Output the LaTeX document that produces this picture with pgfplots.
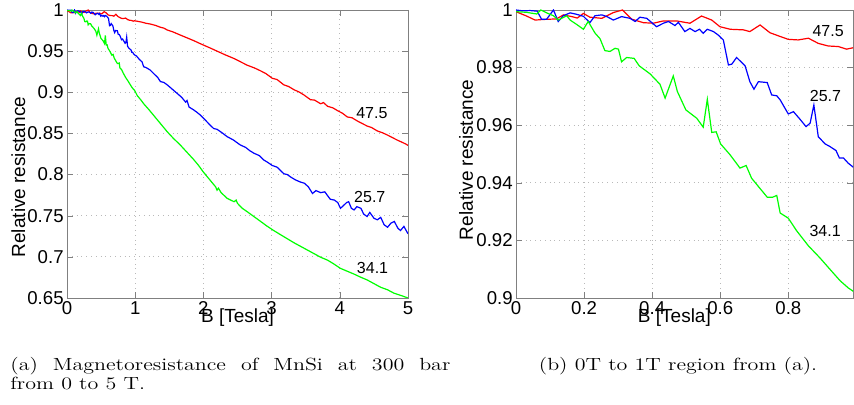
\documentclass[border=0pt]{standalone}
\usepackage{pgfplots}
\pgfplotsset{compat=1.18}
\usepackage{pgfplotstable}
\usepackage{graphicx}
\usepackage{fontspec}
\newfontfamily\arialfont{Liberation Sans}

% relative resistance vs field, three pressures/temperatures
\pgfplotstableread{
x y
0 0.9994
0.031 0.9979
0.056 0.9965
0.080 0.9967
0.119 0.9969
0.139 0.9983
0.164 0.9977
0.180 0.9972
0.198 0.9988
0.217 0.9975
0.252 0.9971
0.286 0.9991
0.313 1.0000
0.340 0.9968
0.374 0.9956
0.403 0.9954
0.433 0.9962
0.472 0.9962
0.511 0.9954
0.545 0.9979
0.575 0.9965
0.599 0.9942
0.629 0.9933
0.668 0.9931
0.687 0.9925
0.717 0.9948
0.746 0.9921
0.776 0.9908
0.800 0.9898
0.829 0.9896
0.859 0.9902
0.888 0.9884
0.917 0.9875
0.947 0.9873
0.971 0.9864
0.991 0.9869
1.05 0.9860
1.10 0.9852
1.16 0.9838
1.22 0.9830
1.30 0.9812
1.37 0.9790
1.42 0.9780
1.47 0.9757
1.55 0.9735
1.66 0.9696
1.75 0.9665
1.86 0.9627
1.93 0.9600
2.00 0.9574
2.10 0.9538
2.20 0.9500
2.32 0.9455
2.45 0.9410
2.55 0.9368
2.64 0.9330
2.75 0.9295
2.84 0.9260
2.92 0.9225
3.01 0.9170
3.08 0.9155
3.18 0.9090
3.25 0.9070
3.33 0.9030
3.40 0.9005
3.47 0.8970
3.57 0.8910
3.63 0.8905
3.72 0.8860
3.76 0.8875
3.82 0.8830
3.90 0.8810
3.96 0.8780
4.04 0.8745
4.11 0.8700
4.18 0.8690
4.26 0.8650
4.33 0.8620
4.40 0.8590
4.47 0.8570
4.55 0.8530
4.62 0.8510
4.70 0.8480
4.77 0.8450
4.84 0.8420
4.92 0.8390
4.97 0.8370
5.00 0.8355
}\redtable

\pgfplotstableread{
x y
0 1.0000
0.020 0.9997
0.041 0.9998
0.062 0.9996
0.075 0.9968
0.090 0.9968
0.110 1.0000
0.124 0.9960
0.139 0.9980
0.159 0.9990
0.178 0.9985
0.198 0.9978
0.217 0.9956
0.232 0.9980
0.252 0.9983
0.267 0.9977
0.286 0.9965
0.310 0.9977
0.335 0.9971
0.350 0.9960
0.364 0.9975
0.384 0.9971
0.399 0.9956
0.413 0.9942
0.433 0.9954
0.448 0.9960
0.467 0.9946
0.477 0.9957
0.496 0.9925
0.511 0.9936
0.526 0.9925
0.539 0.9933
0.550 0.9919
0.562 0.9933
0.580 0.9925
0.594 0.9913
0.609 0.9896
0.624 0.9809
0.634 0.9812
0.648 0.9835
0.673 0.9806
0.687 0.9751
0.699 0.9725
0.712 0.9751
0.738 0.9748
0.751 0.9705
0.766 0.9702
0.776 0.9688
0.790 0.9659
0.800 0.9639
0.815 0.9647
0.834 0.9621
0.852 0.9595
0.864 0.9607
0.875 0.9670
0.888 0.9560
0.908 0.9535
0.922 0.9526
0.940 0.9512
0.950 0.9486
0.962 0.9486
0.976 0.9468
0.991 0.9454
1.02 0.9440
1.06 0.9400
1.10 0.9370
1.125 0.9310
1.16 0.9300
1.22 0.9270
1.28 0.9220
1.33 0.9180
1.37 0.9130
1.42 0.9120
1.47 0.9090
1.54 0.9040
1.61 0.8990
1.68 0.8940
1.74 0.8880
1.76 0.8900
1.79 0.8820
1.85 0.8790
1.90 0.8760
1.96 0.8720
2.03 0.8660
2.10 0.8600
2.15 0.8560
2.20 0.8550
2.27 0.8510
2.35 0.8460
2.44 0.8420
2.54 0.8360
2.62 0.8330
2.68 0.8290
2.74 0.8260
2.82 0.8230
2.88 0.8180
2.94 0.8150
3.01 0.8110
3.08 0.8090
3.13 0.8050
3.18 0.8010
3.23 0.8000
3.28 0.7970
3.35 0.7935
3.42 0.7910
3.48 0.7895
3.54 0.7850
3.60 0.7770
3.65 0.7805
3.72 0.7780
3.78 0.7790
3.86 0.7700
3.92 0.7690
3.97 0.7660
4.01 0.7590
4.05 0.7620
4.10 0.7660
4.13 0.7670
4.17 0.7590
4.21 0.7570
4.25 0.7610
4.31 0.7590
4.35 0.7520
4.40 0.7490
4.44 0.7540
4.50 0.7470
4.55 0.7450
4.60 0.7480
4.65 0.7390
4.70 0.7360
4.75 0.7410
4.80 0.7430
4.85 0.7350
4.89 0.7320
4.94 0.7370
5.00 0.7280
}\bluetable

\pgfplotstableread{
x y
0 0.9994
0.030 0.9992
0.061 0.9986
0.073 1.0000
0.090 0.9990
0.110 0.9980
0.124 0.9965
0.149 0.9980
0.159 0.9965
0.178 0.9950
0.198 0.9933
0.212 0.9960
0.232 0.9920
0.247 0.9900
0.261 0.9859
0.276 0.9856
0.291 0.9867
0.301 0.9864
0.310 0.9820
0.325 0.9835
0.347 0.9832
0.362 0.9806
0.394 0.9778
0.423 0.9742
0.438 0.9694
0.462 0.9771
0.474 0.9717
0.499 0.9653
0.531 0.9624
0.550 0.9593
0.562 0.9690
0.575 0.9575
0.588 0.9577
0.601 0.9535
0.629 0.9497
0.658 0.9451
0.676 0.9460
0.692 0.9416
0.717 0.9380
0.738 0.9350
0.754 0.9350
0.766 0.9356
0.776 0.9295
0.800 0.9277
0.824 0.9234
0.859 0.9181
0.893 0.9139
0.922 0.9100
0.952 0.9060
0.976 0.9035
0.991 0.9023
1.03 0.8960
1.08 0.8910
1.125 0.8860
1.20 0.8790
1.27 0.8720
1.37 0.8620
1.47 0.8520
1.56 0.8440
1.66 0.8360
1.76 0.8270
1.86 0.8180
1.93 0.8110
2.00 0.8030
2.09 0.7940
2.18 0.7850
2.20 0.7810
2.22 0.7835
2.26 0.7780
2.35 0.7710
2.45 0.7670
2.48 0.7690
2.50 0.7650
2.57 0.7590
2.64 0.7550
2.74 0.7490
2.84 0.7430
2.93 0.7375
3.03 0.7320
3.13 0.7270
3.23 0.7220
3.32 0.7175
3.42 0.7130
3.52 0.7085
3.62 0.7040
3.72 0.6995
3.82 0.6960
3.91 0.6915
4.01 0.6860
4.11 0.6825
4.21 0.6790
4.30 0.6755
4.40 0.6720
4.50 0.6675
4.60 0.6630
4.70 0.6600
4.79 0.6560
4.90 0.6530
5.00 0.6500
}\greentable

\pgfplotsset{
  mr/.style={
    scale only axis,
    height=144pt,
    anchor=south west,
    axis line style={gray},
    tick style={gray},
    tick align=inside,
    major tick length=3pt,
    grid=major,
    major grid style={dotted, gray!55},
    every tick label/.append style={font=\arialfont\fontsize{9.3}{10}\selectfont, inner sep=1.5pt},
    /pgf/number format/assume math mode=true,
    /pgf/number format/fixed,
    /pgf/number format/precision=2,
    label style={font=\arialfont\fontsize{9.5}{11}\selectfont},
    xlabel={B [Tesla]},
    ylabel={Relative resistance},
    every axis plot/.append style={line width=0.6pt},
  },
}
\tikzset{num/.style={font=\arialfont\fontsize{8}{9}\selectfont}}

\begin{document}
\begin{tikzpicture}
\useasboundingbox (0,0) rectangle (427pt,202.5pt);

\begin{axis}[mr,
  at={(33.5pt,53.5pt)},
  width=170.5pt,
  xmin=0, xmax=5, ymin=0.65, ymax=1,
  xtick={0,1,2,3,4,5},
  ytick={0.65,0.7,0.75,0.8,0.85,0.9,0.95,1},
  xlabel style={at={(axis description cs:0.5,0)}, anchor=base, yshift=-12.5pt},
  ylabel style={at={(axis description cs:-0.123,0.42)}, anchor=base},
]
\addplot[red] table {\redtable};
\addplot[blue] table {\bluetable};
\addplot[green] table {\greentable};
\node[num] at (axis cs:4.47,0.875) {47.5};
\node[num] at (axis cs:4.44,0.773) {25.7};
\node[num] at (axis cs:4.48,0.686) {34.1};
\end{axis}

\begin{axis}[mr,
  at={(258pt,53.5pt)},
  width=168.5pt,
  xmin=0, xmax=0.99, ymin=0.9, ymax=1,
  xtick={0,0.2,0.4,0.6,0.8},
  ytick={0.9,0.92,0.94,0.96,0.98,1},
  xlabel style={at={(axis description cs:0.47,0)}, anchor=base, yshift=-12.5pt},
  ylabel style={at={(axis description cs:-0.128,0.48)}, anchor=base},
]
\addplot[red] table {\redtable};
\addplot[blue] table {\bluetable};
\addplot[green] table {\greentable};
\node[num] at (axis cs:0.917,0.9927) {47.5};
\node[num] at (axis cs:0.909,0.970) {25.7};
\node[num] at (axis cs:0.908,0.9234) {34.1};
\end{axis}

% sub-captions
\begin{scope}[every node/.style={inner sep=0pt, font=\fontsize{11}{13}\selectfont}]
\node[anchor=base west] at (5pt,17pt)
  {\scalebox{1}[0.8]{\makebox[220pt][s]{(a) Magnetoresistance of MnSi at 300 bar}}};
\node[anchor=base west] at (5pt,7.5pt) {\scalebox{1}[0.8]{from 0 to 5 T.}};
\node[anchor=base] at (339pt,17pt) {\scalebox{1}[0.8]{(b) 0T to 1T region from (a).}};
\end{scope}
\end{tikzpicture}
\end{document}
